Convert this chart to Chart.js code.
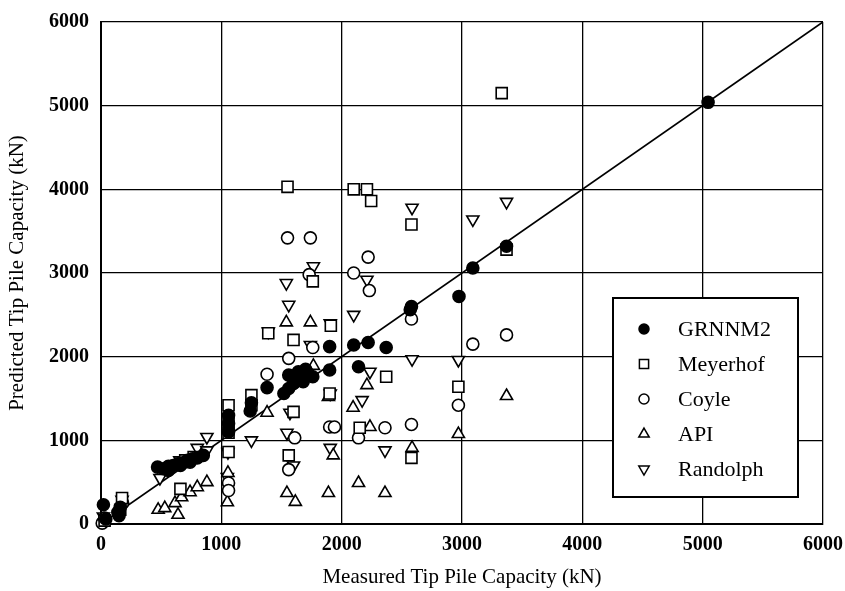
<!DOCTYPE html>
<html><head><meta charset="utf-8">
<script src="https://cdn.jsdelivr.net/npm/chart.js@4.4.1/dist/chart.umd.min.js"></script>
<style>html,body{margin:0;padding:0;background:#fff}</style>
</head><body>
<canvas id="c" width="845" height="591" style="display:block"></canvas>
<script>
// ---- data (kN): [measured, predicted] ----
const axisTicks = [0,1000,2000,3000,4000,5000,6000];
const seriesNames = ["GRNNM2","Meyerhof","Coyle","API","Randolph"];
const grnnm2 = [[20,230],[40,60],[140,140],[160,200],[150,100],
  [470,680],[520,660],[560,690],[600,700],[640,720],[680,730],[720,760],[760,780],[800,790],[850,820],[560,640],[660,700],[740,740],
  [1060,1100],[1060,1200],[1060,1300],[1240,1350],[1250,1450],[1380,1630],
  [1520,1560],[1560,1620],[1600,1680],[1640,1750],[1680,1700],[1720,1800],[1760,1760],[1560,1780],[1640,1820],[1700,1850],[1900,1840],
  [1900,2120],[2100,2140],[2220,2170],[2370,2110],[2140,1880],
  [2570,2560],[2580,2600],[2975,2720],[3090,3060],[3370,3320],[5045,5040]];
const meyerhof = [[30,40],[175,310],[160,170],[660,420],[700,760],[770,800],[1060,1420],[1060,1200],[1060,1090],[1060,860],
  [1250,1540],[1250,1420],[1390,2280],[1550,4030],[1600,2200],[1600,1340],[1560,820],[1760,2900],[1910,2370],[1900,1560],
  [2100,4000],[2210,4000],[2245,3860],[2150,1150],[2370,1760],[2580,3580],[2580,790],[2970,1640],[3330,5150],[3370,3280]];
const coyle = [[10,10],[30,70],[180,250],[1060,490],[1060,400],[1380,1790],[1550,3420],[1740,3420],[1730,2980],[1560,1980],
  [1610,1030],[1560,650],[1900,1160],[1940,1160],[1760,2110],[2100,3000],[2220,3190],[2230,2790],[2140,1030],[2360,1150],
  [2580,2450],[2580,1190],[2970,1420],[3090,2150],[3370,2260]];
const api = [[475,170],[530,190],[615,250],[640,110],[670,320],[740,380],[800,440],[880,500],[1050,260],[1055,610],
  [1380,1330],[1540,2410],[1740,2410],[1765,1890],[1890,1520],[2095,1390],[2210,1660],[2235,1160],[1930,820],[1545,370],
  [1615,265],[1890,370],[2140,490],[2360,370],[2585,910],[2970,1075],[3370,1530]];
const randolph = [[20,90],[175,290],[490,550],[655,760],[800,910],[880,880],[880,1040],[1055,860],[1050,560],[1250,1000],
  [1390,2300],[1540,2880],[1560,2620],[1570,1330],[1545,1090],[1600,700],[1740,2140],[1765,3080],[1905,2400],[1905,1560],
  [1905,910],[2100,2500],[2210,2920],[2235,1820],[2170,1480],[2360,880],[2585,3780],[2585,1970],[2970,1960],[3090,3640],[3370,3850]];
const equalityLine = [[0,0],[6000,6000]];

const pts = a => a.map(p => ({x:p[0], y:p[1]}));
const mk = (label, data, style, rot, r, fill, order) => ({
  type:'scatter', label, data:pts(data), pointStyle:style, rotation:rot, pointRadius:r, pointHoverRadius:r,
  pointBackgroundColor:fill, pointBorderColor:'#000', pointBorderWidth:1.6, showLine:false, clip:false, order
});

function drawMarker(ctx, style, rot, r, fill, x, y){
  ctx.save(); ctx.beginPath(); ctx.lineWidth = 1.5; ctx.strokeStyle = '#000'; ctx.fillStyle = fill;
  if (style === 'circle') { ctx.arc(x, y, r, 0, Math.PI*2); }
  else if (style === 'rect') { const s = r*Math.SQRT1_2; ctx.rect(x-s, y-s, 2*s, 2*s); }
  else { let a = rot*Math.PI/180; ctx.moveTo(x+Math.sin(a)*r, y-Math.cos(a)*r);
    a += 2*Math.PI/3; ctx.lineTo(x+Math.sin(a)*r, y-Math.cos(a)*r);
    a += 2*Math.PI/3; ctx.lineTo(x+Math.sin(a)*r, y-Math.cos(a)*r); ctx.closePath(); }
  ctx.fill(); ctx.stroke(); ctx.restore();
}

const boxLegend = {
  id:'boxLegend',
  afterDatasetsDraw(chart){
    const ctx = chart.ctx;
    const bx = 613, by = 298, bw = 185, bh = 199;
    ctx.save();
    ctx.fillStyle = '#fff'; ctx.fillRect(bx, by, bw, bh);
    ctx.lineWidth = 2; ctx.strokeStyle = '#000'; ctx.strokeRect(bx, by, bw, bh);
    ctx.font = '22px "Liberation Serif", "Times New Roman", serif';
    ctx.fillStyle = '#000'; ctx.textBaseline = 'middle'; ctx.textAlign = 'left';
    const sizes = {circle:5, rect:6.5, triangle:6};
    chart.data.datasets.filter(d => d.label && seriesNames.includes(d.label)).forEach((d, i) => {
      const y = by + 31 + i*35;
      drawMarker(ctx, d.pointStyle, d.rotation, sizes[d.pointStyle], d.pointBackgroundColor, 644, y);
      ctx.fillStyle = '#000';
      ctx.fillText(d.label, 678, y + 1);
    });
    ctx.restore();
  }
};
const whiteBg = { id:'whiteBg', beforeDraw(c){ const x=c.ctx; x.save(); x.fillStyle='#fff'; x.fillRect(0,0,c.width,c.height); x.restore(); } };

const tickFont = {family:'"Liberation Serif", "Times New Roman", serif', size:20, weight:'bold'};
const titleFont = {family:'"Liberation Serif", "Times New Roman", serif', size:21};
const gridOpts = {color:'#000', lineWidth:1.3, drawTicks:false};
const borderOpts = {color:'#000', width:2};
const plain = v => String(v);

new Chart(document.getElementById('c'), {
  data:{ datasets:[
    mk(seriesNames[0], grnnm2, 'circle', 0, 6, '#000', 0),
    mk(seriesNames[1], meyerhof, 'rect', 0, 7.8, '#fff', 1),
    mk(seriesNames[2], coyle, 'circle', 0, 6, '#fff', 2),
    mk(seriesNames[3], api, 'triangle', 0, 7, '#fff', 3),
    mk(seriesNames[4], randolph, 'triangle', 180, 7, '#fff', 4),
    {type:'line', label:'', data:pts(equalityLine), borderColor:'#000', borderWidth:1.8, pointRadius:0, order:10, tension:0}
  ]},
  options:{
    responsive:false, animation:false, events:[],
    layout:{padding:{top:22, right:22, left:0, bottom:0}},
    plugins:{legend:{display:false}, tooltip:{enabled:false}},
    scales:{
      x:{type:'linear', min:0, max:6000,
        afterBuildTicks: s => { s.ticks = axisTicks.map(v => ({value:v})); },
        afterFit: s => { s.height = 67; s.paddingRight = 0; s.paddingLeft = 0; },
        ticks:{color:'#000', font:tickFont, padding:9, maxRotation:0, callback:plain},
        grid:gridOpts, border:borderOpts,
        title:{display:true, text:'Measured Tip Pile Capacity (kN)', color:'#000', font:titleFont, padding:{top:0,bottom:1}}},
      y:{type:'linear', min:0, max:6000,
        afterBuildTicks: s => { s.ticks = axisTicks.map(v => ({value:v})); },
        afterFit: s => { s.width = 101; s.paddingTop = 0; s.paddingBottom = 0; },
        ticks:{color:'#000', font:tickFont, padding:12, callback:plain},
        grid:gridOpts, border:borderOpts,
        title:{display:true, text:'Predicted Tip Pile Capacity (kN)', color:'#000', font:titleFont, padding:{top:5,bottom:0}}}
    }
  },
  plugins:[whiteBg, boxLegend]
});
</script>
</body></html>
